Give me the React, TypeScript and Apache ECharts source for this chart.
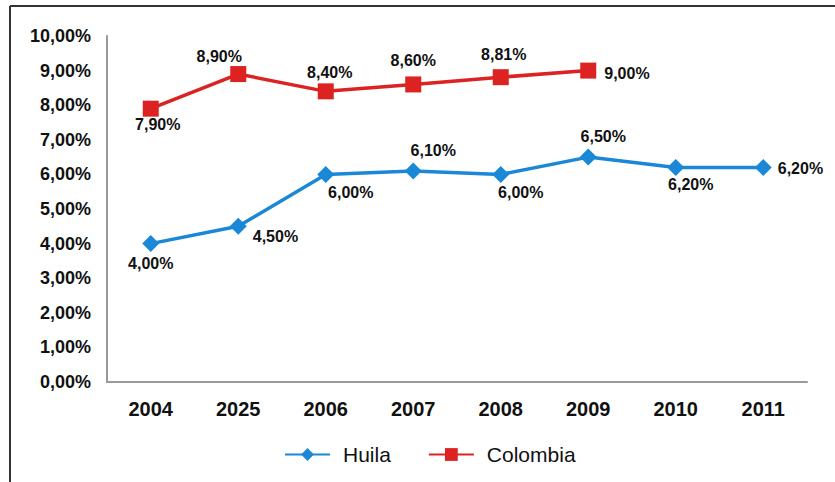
import React, { useEffect, useRef } from "react";
import * as echarts from "echarts";

const categories = ["2004", "2025", "2006", "2007", "2008", "2009", "2010", "2011"];
const huila = [4.0, 4.5, 6.0, 6.1, 6.0, 6.5, 6.2, 6.2];
const colombia = [7.9, 8.9, 8.4, 8.6, 8.81, 9.0];

// label placement (style only)
const huilaLabelPos: [string, number, number][] = [
  ["bottom", 0, -1],
  ["right", 2, 10],
  ["bottom", 25, -2],
  ["top", 20, 0],
  ["bottom", 20, -2],
  ["top", 15, 0],
  ["bottom", 15, -3],
  ["right", 2, 1],
];
const colombiaLabelPos: [string, number, number][] = [
  ["bottom", 7, -4],
  ["top", -19, 2],
  ["top", 4, 1],
  ["top", 0, -4],
  ["top", 3, -3],
  ["right", 4, 3],
];

const fmt = (v: number) => v.toFixed(2).replace(".", ",") + "%";
const FONT = "'Liberation Sans', Arial, sans-serif";
const HUILA = "#1a88d6";
const COL = "#dd2222";

export default function App() {
  const ref = useRef<HTMLDivElement>(null);
  useEffect(() => {
    if (!ref.current) return;
    const chart = echarts.init(ref.current, null, { renderer: "svg" });
    const mk = (vals: number[], pos: [string, number, number][]) =>
      vals.map((v, i) => ({
        value: v,
        label: { position: pos[i][0] as any, offset: [pos[i][1], pos[i][2]] },
      }));
    chart.setOption({
      animation: false,
      backgroundColor: "#ffffff",
      textStyle: { fontFamily: FONT },
      grid: { left: 107, top: 36, width: 700, height: 346, containLabel: false },
      graphic: [
        { type: "line", shape: { x1: 10, y1: 6, x2: 835, y2: 6 }, style: { stroke: "#333", lineWidth: 2 } },
        { type: "line", shape: { x1: 10, y1: 6, x2: 10, y2: 482 }, style: { stroke: "#333", lineWidth: 2 } },
      ],
      legend: {
        left: 279,
        top: 439,
        itemWidth: 45,
        itemHeight: 16,
        itemGap: 37,
        textStyle: { fontFamily: FONT, fontSize: 21, color: "#111", padding: [0, 0, 0, 8] },
        data: ["Huila", "Colombia"],
      },
      xAxis: {
        type: "category",
        data: categories,
        boundaryGap: true,
        axisLine: { lineStyle: { color: "#999", width: 2 } },
        axisTick: { show: false },
        splitLine: { show: false },
        axisLabel: { fontFamily: FONT, fontSize: 20, fontWeight: "bold", color: "#111", margin: 17 },
      },
      yAxis: {
        type: "value",
        min: 0,
        max: 10,
        interval: 1,
        axisLine: { show: true, lineStyle: { color: "#999", width: 2 } },
        axisTick: { show: false },
        splitLine: { show: false },
        axisLabel: {
          fontFamily: FONT,
          fontSize: 18,
          fontWeight: "bold",
          color: "#111",
          margin: 16,
          formatter: (v: number) => fmt(v),
        },
      },
      series: [
        {
          name: "Huila",
          type: "line",
          data: mk(huila, huilaLabelPos),
          symbol: "diamond",
          symbolSize: 17,
          itemStyle: { color: HUILA },
          lineStyle: { color: HUILA, width: 3.5 },
          label: {
            show: true,
            fontFamily: FONT,
            fontSize: 16,
            fontWeight: "bold",
            color: "#111",
            distance: 4,
            formatter: (p: any) => fmt(p.value),
          },
        },
        {
          name: "Colombia",
          type: "line",
          data: mk(colombia, colombiaLabelPos),
          symbol: "rect",
          symbolSize: 16,
          itemStyle: { color: COL },
          lineStyle: { color: COL, width: 3.5 },
          label: {
            show: true,
            fontFamily: FONT,
            fontSize: 16,
            fontWeight: "bold",
            color: "#111",
            distance: 4,
            formatter: (p: any) => fmt(p.value),
          },
        },
      ],
    });
    return () => chart.dispose();
  }, []);
  return (
    <div
      ref={ref}
      style={{ position: "fixed", left: 0, top: 0, width: 835, height: 482, background: "#fff" }}
    />
  );
}
